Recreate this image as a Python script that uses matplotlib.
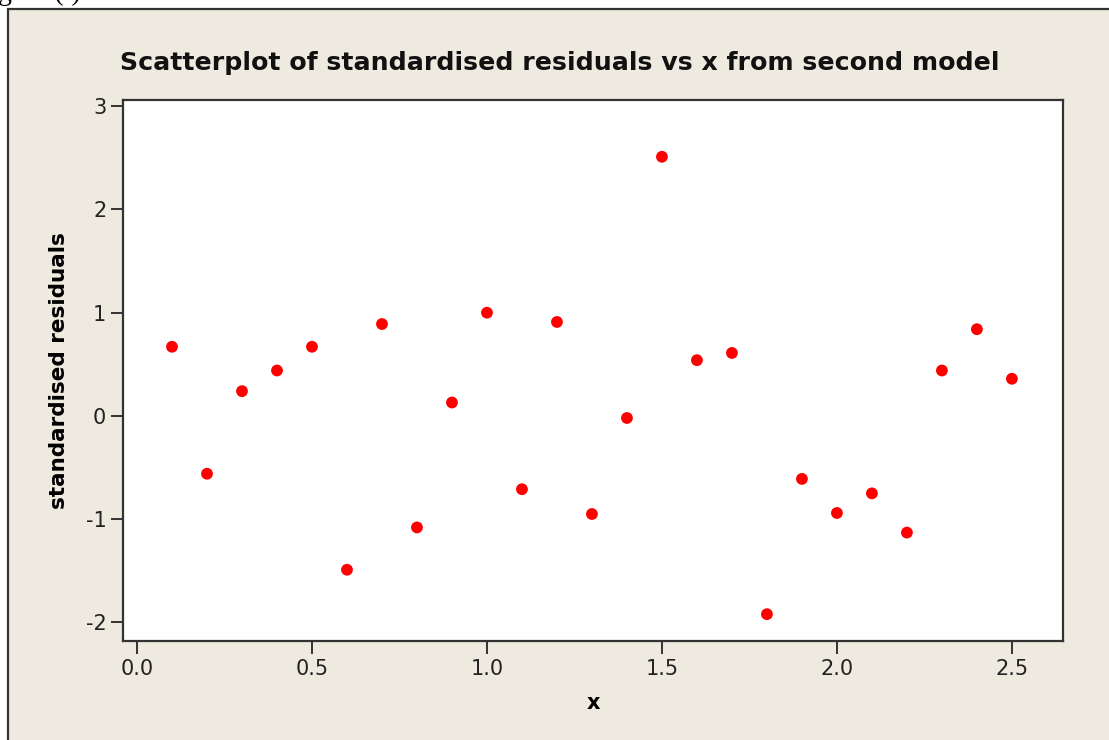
import matplotlib
matplotlib.use("Agg")
import matplotlib.pyplot as plt
from matplotlib.patches import Rectangle

x_values = [0.1, 0.2, 0.3, 0.4, 0.5, 0.6, 0.7, 0.8, 0.9, 1.0, 1.1, 1.2, 1.3,
            1.4, 1.5, 1.6, 1.7, 1.8, 1.9, 2.0, 2.1, 2.2, 2.3, 2.4, 2.5]
residuals = [0.67, -0.56, 0.24, 0.44, 0.67, -1.49, 0.89, -1.08, 0.13, 1.00,
             -0.71, 0.91, -0.95, -0.02, 2.51, 0.54, 0.61, -1.92, -0.61, -0.94,
             -0.75, -1.13, 0.44, 0.84, 0.36]
x_ticks = [0.0, 0.5, 1.0, 1.5, 2.0, 2.5]
x_tick_labels = ["0.0", "0.5", "1.0", "1.5", "2.0", "2.5"]
y_ticks = [-2, -1, 0, 1, 2, 3]
y_tick_labels = ["-2", "-1", "0", "1", "2", "3"]

W, H = 1109, 740
fig = plt.figure(figsize=(W / 100, H / 100), dpi=100)
fig.patch.set_facecolor("white")

# background axes holding the beige framed panel
bg = fig.add_axes([0, 0, 1, 1], zorder=-10)
bg.set_xlim(0, W)
bg.set_ylim(H, 0)
bg.axis("off")
bg.add_patch(Rectangle((8, 9), W, H, facecolor="#EEEAE0", edgecolor="#333333",
                       linewidth=1.6, clip_on=False))
bg.text(-2, -7, "gure (i)", family="Liberation Serif", fontsize=20,
        ha="left", va="center", color="black", clip_on=False)

ax = fig.add_axes([123 / W, 1 - 641 / H, (1063 - 123) / W, (641 - 100) / H], zorder=1)
ax.set_facecolor("white")
ax.scatter(x_values, residuals, s=72, color="#FF0000", edgecolors="none", zorder=3)

ax.set_xlim(-0.04, 2.646)
ax.set_ylim(-2.18, 3.06)
ax.set_xticks(x_ticks)
ax.set_xticklabels(x_tick_labels)
ax.set_yticks(y_ticks)
ax.set_yticklabels(y_tick_labels)

for s in ax.spines.values():
    s.set_color("#333333")
    s.set_linewidth(1.6)

ax.tick_params(axis="both", direction="out", length=9, width=1.4, color="#333333",
               labelsize=15, labelcolor="#222222")
ax.tick_params(axis="x", pad=4)
ax.tick_params(axis="y", pad=3)

ax.set_xlabel("x", fontsize=15, fontweight="bold", labelpad=10)
ax.set_ylabel("standardised residuals", fontsize=15.5, fontweight="bold", labelpad=12)

fig.text(560 / W, 1 - 63 / H, "Scatterplot of standardised residuals vs x from second model",
         fontsize=18.2, fontweight="bold", ha="center", va="center", color="#111111")

fig.savefig("out.png", dpi=100, facecolor=fig.get_facecolor())
